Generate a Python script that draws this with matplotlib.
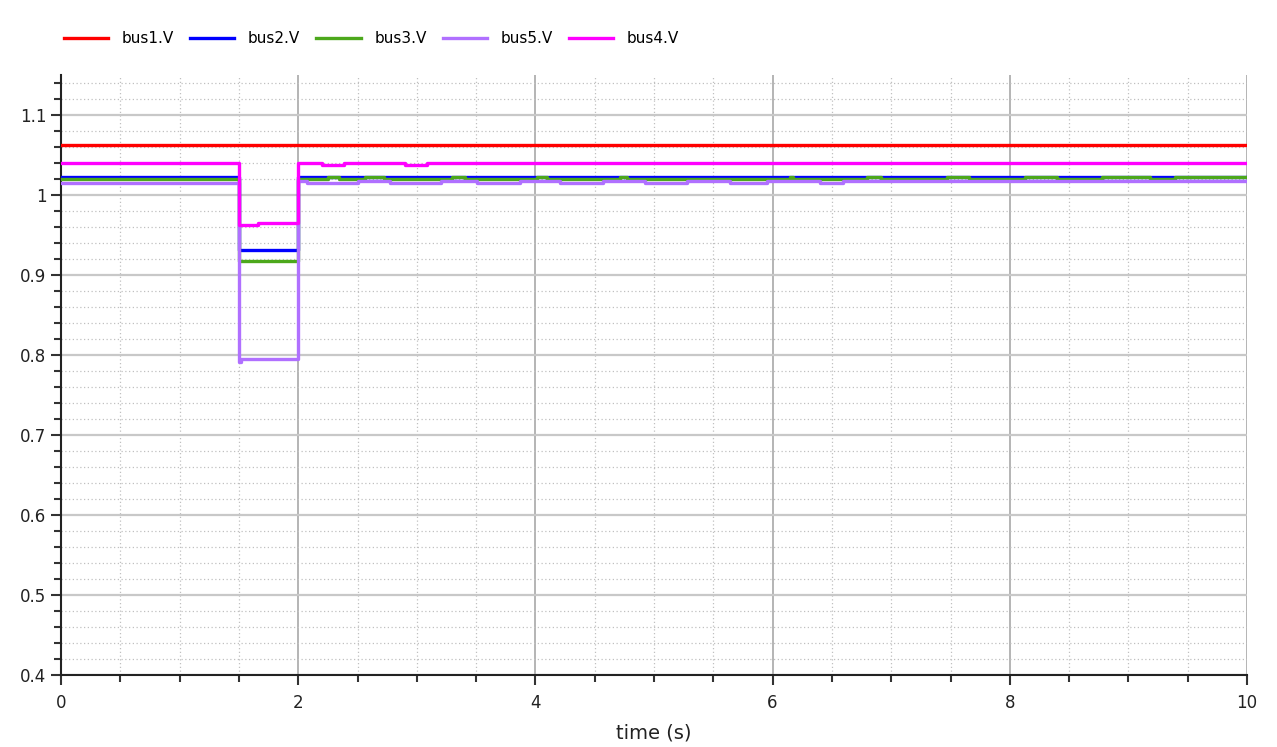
import matplotlib
matplotlib.use("Agg")
import matplotlib.pyplot as plt
from matplotlib.ticker import MultipleLocator, FuncFormatter

# ---- data (step series: breakpoint times and values, held until next time) ----
bus1_t = [0.0, 10.0]
bus1_v = [1.062, 1.062]

bus2_t = [0.0, 1.5, 2.0, 10.0]
bus2_v = [1.023, 0.931, 1.023, 1.023]

bus3_t = [0.0, 1.5, 2.0, 2.25, 2.34, 2.56, 2.72, 3.30, 3.41, 4.01, 4.10, 4.71, 4.77,
          6.15, 6.17, 6.80, 6.91, 7.47, 7.66, 8.13, 8.40, 8.78, 9.18, 9.39, 10.0]
bus3_v = [1.020, 0.918, 1.020, 1.023, 1.020, 1.023, 1.020, 1.023, 1.020, 1.023, 1.020, 1.023, 1.020,
          1.023, 1.020, 1.023, 1.020, 1.023, 1.020, 1.023, 1.020, 1.023, 1.020, 1.023, 1.023]

bus5_t = [0.0, 1.5, 1.52, 2.0, 2.07, 2.50, 2.77, 3.20, 3.51, 3.87, 4.21, 4.57, 4.92, 5.28,
          5.64, 5.95, 6.40, 6.59, 10.0]
bus5_v = [1.0145, 0.791, 0.795, 1.0172, 1.0145, 1.0172, 1.0145, 1.0172, 1.0145, 1.0172, 1.0145, 1.0172,
          1.0145, 1.0172, 1.0145, 1.0172, 1.0145, 1.0172, 1.0172]

bus4_t = [0.0, 1.5, 1.66, 2.0, 2.20, 2.39, 2.90, 3.09, 10.0]
bus4_v = [1.040, 0.9625, 0.9646, 1.040, 1.0375, 1.040, 1.0375, 1.040, 1.040]

series = [
    ("bus1.V", bus1_t, bus1_v, "#ff0000"),
    ("bus2.V", bus2_t, bus2_v, "#0000ff"),
    ("bus3.V", bus3_t, bus3_v, "#4ca81c"),
    ("bus5.V", bus5_t, bus5_v, "#b070ff"),
    ("bus4.V", bus4_t, bus4_v, "#ff00ff"),
]

x_label = "time (s)"
x_lim = (0, 10)
y_lim = (0.4, 1.15)

# ---- figure ----
fig = plt.figure(figsize=(12.77, 7.47), dpi=100)
ax = fig.add_axes([61 / 1277, 1 - 675 / 747, (1247 - 61) / 1277, (675 - 75) / 747])

for label, t, v, c in series:
    ax.plot(t, v, drawstyle="steps-post", color=c, lw=2.4, label=label, zorder=3)

ax.set_xlim(*x_lim)
ax.set_ylim(*y_lim)

ax.xaxis.set_major_locator(MultipleLocator(2))
ax.xaxis.set_minor_locator(MultipleLocator(0.5))
ax.yaxis.set_major_locator(MultipleLocator(0.1))
ax.yaxis.set_minor_locator(MultipleLocator(0.02))
ax.yaxis.set_major_formatter(FuncFormatter(lambda v, p: f"{v:g}"))
ax.xaxis.set_major_formatter(FuncFormatter(lambda v, p: f"{v:g}"))

ax.grid(which="major", axis="y", color="#c8c8c8", lw=1.6, zorder=0)
ax.grid(which="major", axis="x", color="#a8a8a8", lw=1.2, zorder=0)
ax.grid(which="minor", color="#c0c0c0", lw=0.9, linestyle=(0, (1, 2)), zorder=0)

for s in ("top", "right"):
    ax.spines[s].set_visible(False)
for s in ("left", "bottom"):
    ax.spines[s].set_color("#222222")
    ax.spines[s].set_linewidth(1.5)

ax.tick_params(which="major", direction="out", length=7, width=1.5, color="#333333",
               labelsize=12, labelcolor="#222222")
ax.tick_params(which="minor", direction="out", length=5, width=1.5, color="#333333")
ax.tick_params(axis="x", pad=7)

ax.set_xlabel(x_label, fontsize=14, color="#222222", labelpad=8)

fig.legend(loc="upper left", bbox_to_anchor=(0.039, 0.977), ncol=5, frameon=False,
           fontsize=11, handlelength=2.9, handletextpad=0.9, columnspacing=1.05)

fig.savefig("out.png", dpi=100)
